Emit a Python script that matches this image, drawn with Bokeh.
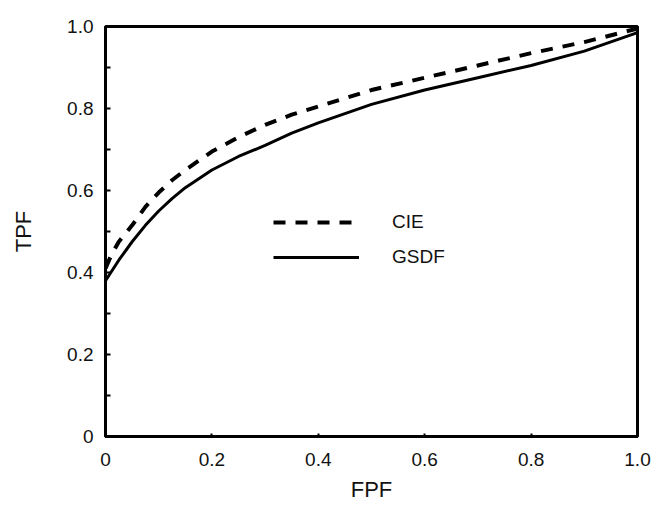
from bokeh.plotting import figure
from bokeh.models import Range1d, FixedTicker, Legend, LegendItem
from bokeh.embed import file_html
from bokeh.resources import INLINE

fpf = [0.0, 0.01, 0.025, 0.05, 0.075, 0.1, 0.125, 0.15, 0.2, 0.25, 0.3, 0.35, 0.4,
       0.5, 0.6, 0.7, 0.8, 0.9, 1.0]
tpf_cie = [0.41, 0.44, 0.475, 0.515, 0.56, 0.595, 0.625, 0.65, 0.695, 0.73, 0.76, 0.785, 0.805,
           0.845, 0.875, 0.905, 0.935, 0.962, 0.995]
tpf_gsdf = [0.38, 0.40, 0.43, 0.475, 0.515, 0.55, 0.58, 0.607, 0.65, 0.683, 0.71, 0.74, 0.765,
            0.81, 0.845, 0.875, 0.905, 0.94, 0.985]

x_ticks = [0, 0.2, 0.4, 0.6, 0.8, 1.0]
x_tick_labels = ["0", "0.2", "0.4", "0.6", "0.8", "1.0"]
y_ticks = [0, 0.2, 0.4, 0.6, 0.8, 1.0]
y_tick_labels = ["0", "0.2", "0.4", "0.6", "0.8", "1.0"]
y_minor = [0.1, 0.3, 0.5, 0.7, 0.9]

FONT = "Liberation Sans"

p = figure(width=656, height=508, output_backend="svg", toolbar_location=None,
           x_range=Range1d(0, 1), y_range=Range1d(0, 1),
           min_border_left=105, min_border_right=19, min_border_top=26, min_border_bottom=72)
p.grid.visible = False
p.outline_line_color = "black"
p.outline_line_width = 3
p.background_fill_color = "white"
p.border_fill_color = "white"

p.xaxis.ticker = FixedTicker(ticks=x_ticks)
p.xaxis.major_label_overrides = {t: l for t, l in zip(x_ticks, x_tick_labels)}
p.yaxis.ticker = FixedTicker(ticks=y_ticks, minor_ticks=y_minor)
p.yaxis.major_label_overrides = {t: l for t, l in zip(y_ticks, y_tick_labels)}

for ax in (p.xaxis[0], p.yaxis[0]):
    ax.axis_line_width = 3
    ax.axis_line_color = "black"
    ax.major_tick_out = 0
    ax.minor_tick_out = 0
    ax.major_tick_line_width = 2
    ax.minor_tick_line_width = 2
    ax.major_label_text_font = FONT
    ax.major_label_text_font_size = "19px"
    ax.major_label_text_color = "#111111"
    ax.axis_label_text_font = FONT
    ax.axis_label_text_font_size = "22px"
    ax.axis_label_text_font_style = "normal"
    ax.axis_label_text_color = "#111111"

p.xaxis.major_tick_in = 3
p.xaxis.minor_tick_in = 0
p.yaxis.major_tick_in = 5
p.yaxis.minor_tick_in = 5
p.xaxis.major_label_standoff = 16
p.yaxis.major_label_standoff = 12
p.xaxis.axis_label = "FPF"
p.yaxis.axis_label = "TPF"
p.xaxis.axis_label_standoff = 8
p.yaxis.axis_label_standoff = 28

r_cie = p.line(fpf, tpf_cie, line_color="black", line_width=4, line_dash="12 10")
r_gsdf = p.line(fpf, tpf_gsdf, line_color="black", line_width=3)

legend = Legend(items=[LegendItem(label="CIE", renderers=[r_cie]),
                       LegendItem(label="GSDF", renderers=[r_gsdf])],
                location=(168, 168), glyph_width=86, glyph_height=20, spacing=13,
                padding=0, margin=0, label_standoff=33,
                border_line_color=None, background_fill_alpha=0,
                label_text_font=FONT, label_text_font_size="19px", label_text_color="#111111")
p.add_layout(legend, "center")

open("out.html", "w").write(file_html(p, INLINE))
